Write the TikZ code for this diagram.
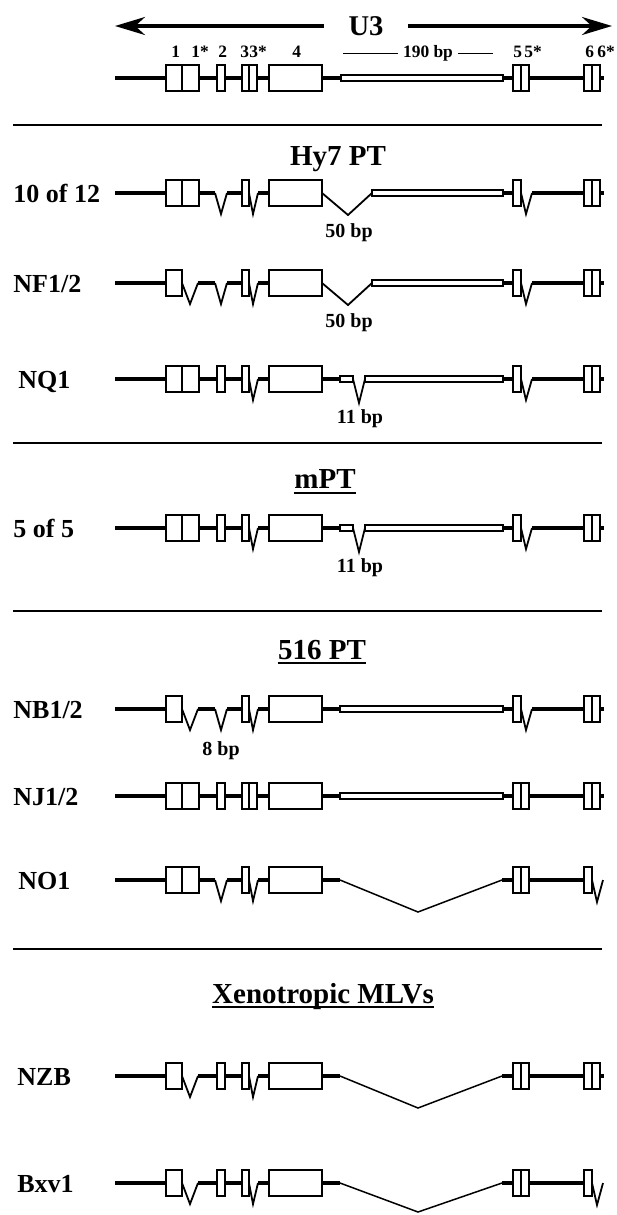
\documentclass[tikz,border=0pt]{standalone}
\usepackage{fontspec}
\setmainfont{Liberation Serif}
\usetikzlibrary{arrows.meta}

\begin{document}
\begin{tikzpicture}[
    x=0.5pt, y=-0.5pt,
    bb/.style={line width=1.7pt},
    exon/.style={draw, fill=white, line width=0.9pt},
    cut/.style={line width=0.9pt},
    skip/.style={line width=0.75pt},
    utr/.style={draw, fill=white, line width=0.7pt},
    rule/.style={line width=0.9pt},
    lbl/.style={font=\fontsize{13}{15}\selectfont\bfseries, inner sep=0pt, anchor=base west},
    ttl/.style={font=\fontsize{14.5}{17}\selectfont\bfseries, inner sep=0pt, anchor=base},
    bp/.style={font=\fontsize{10}{12}\selectfont\bfseries, inner sep=0pt, anchor=base},
    num/.style={font=\fontsize{8.7}{10}\selectfont\bfseries, inner sep=0pt, anchor=base west}
  ]
    \fill[white] (0,0) rectangle (616,1215);
    \useasboundingbox (0,0) rectangle (616,1215);

    % U3 header
    \node[font=\fontsize{14.3}{17}\selectfont\bfseries, inner xsep=12pt, inner ysep=0pt] (u3) at (366,26) {U3};
    \coordinate (u3l) at (115,26);
    \coordinate (u3r) at (612,26);
    \draw[line width=1.6pt, -{Stealth[length=15pt, width=9pt]}] (u3.west) -- (u3l);
    \draw[line width=1.6pt, -{Stealth[length=15pt, width=9pt]}] (u3.east) -- (u3r);

    % exon numbers
    \node[num] (n1) at (171,57) {1};
    \node[num] (n1s) at (191,57) {1*};
    \node[num] (n2) at (218,57) {2};
    \node[num] (n3) at (240,57) {3};
    \node[num] (n3s) at (249,57) {3*};
    \node[num] (n4) at (292,57) {4};
    \node[num] (n5) at (513,57) {5};
    \node[num] (n5s) at (524,57) {5*};
    \node[num] (n6) at (585,57) {6};
    \node[num] (n6s) at (597,57) {6*};
    \node[font=\fontsize{8.7}{10}\selectfont\bfseries, inner xsep=2.5pt, inner ysep=0pt] (bp190) at (428,53) {190 bp};
    \coordinate (s190l) at (343,53);
    \coordinate (s190r) at (493,53);
    \draw[line width=0.5pt] (bp190.west) -- (s190l) (bp190.east) -- (s190r);

    % U3 map
    \begin{scope}[shift={(0,78)}]
      \draw[bb] (115,0) -- (341,0) (503,0) -- (604,0);
      \draw[utr] (341,-3) rectangle (503,3);
      \draw[exon] (166,-13) rectangle (199,13) (182,-13) -- (182,13);
      \draw[exon] (217,-13) rectangle (225,13);
      \draw[exon] (242,-13) rectangle (257,13) (249,-13) -- (249,13);
      \draw[exon] (269,-13) rectangle (322,13);
      \draw[exon] (513,-13) rectangle (529,13) (521,-13) -- (521,13);
      \draw[exon] (584,-13) rectangle (600,13) (592,-13) -- (592,13);
    \end{scope}

    \draw[rule] (13,125) -- (602,125);
    \node[ttl] (hy7) at (338,165) {Hy7 PT};

    % 10 of 12
    \begin{scope}[shift={(0,193)}]
      \node[lbl] (r10of12) at (13,9) {10 of 12};
      \draw[bb] (115,0) -- (215,0) (227,0) -- (249,0) (258,0) -- (322,0)
                (503,0) -- (521,0) (532,0) -- (604,0);
      \draw[cut] (215,0) -- (221,21) -- (227,0) (249,0) -- (253,21) -- (258,0)
                 (322,0) -- (348,22) -- (372,0) (521,0) -- (526,21) -- (532,0);
      \draw[utr] (372,-3) rectangle (503,3);
      \draw[exon] (166,-13) rectangle (199,13) (182,-13) -- (182,13);
      \draw[exon] (242,-13) rectangle (249,13) (269,-13) rectangle (322,13)
                  (513,-13) rectangle (521,13);
      \draw[exon] (584,-13) rectangle (600,13) (592,-13) -- (592,13);
      \node[bp] (bp50a) at (349,44) {50 bp};
    \end{scope}

    % NF1/2
    \begin{scope}[shift={(0,283)}]
      \node[lbl] (rnf) at (13,9) {NF1/2};
      \draw[bb] (115,0) -- (182,0) (198,0) -- (215,0) (227,0) -- (249,0) (258,0) -- (322,0)
                (503,0) -- (521,0) (532,0) -- (604,0);
      \draw[cut] (182,0) -- (190,21) -- (198,0) (215,0) -- (221,21) -- (227,0)
                 (249,0) -- (253,21) -- (258,0) (322,0) -- (348,22) -- (372,0)
                 (521,0) -- (526,21) -- (532,0);
      \draw[utr] (372,-3) rectangle (503,3);
      \draw[exon] (166,-13) rectangle (182,13) (242,-13) rectangle (249,13)
                  (269,-13) rectangle (322,13) (513,-13) rectangle (521,13);
      \draw[exon] (584,-13) rectangle (600,13) (592,-13) -- (592,13);
      \node[bp] (bp50b) at (349,44) {50 bp};
    \end{scope}

    % NQ1
    \begin{scope}[shift={(0,379)}]
      \node[lbl] (rnq) at (18,9) {NQ1};
      \draw[bb] (115,0) -- (249,0) (258,0) -- (340,0) (503,0) -- (521,0) (532,0) -- (604,0);
      \draw[cut] (249,0) -- (253,21) -- (258,0) (353,0) -- (359,24) -- (365,0)
                 (521,0) -- (526,21) -- (532,0);
      \draw[utr] (340,-3) rectangle (353,3) (365,-3) rectangle (503,3);
      \draw[exon] (166,-13) rectangle (199,13) (182,-13) -- (182,13);
      \draw[exon] (217,-13) rectangle (225,13) (242,-13) rectangle (249,13)
                  (269,-13) rectangle (322,13) (513,-13) rectangle (521,13);
      \draw[exon] (584,-13) rectangle (600,13) (592,-13) -- (592,13);
      \node[bp] (bp11a) at (360,44) {11 bp};
    \end{scope}

    \draw[rule] (13,443) -- (602,443);
    \node[ttl] (mpt) at (325,488) {mPT};
    \draw[rule] ([yshift=-2.5pt]mpt.base west) -- ([yshift=-2.5pt]mpt.base east);

    % 5 of 5
    \begin{scope}[shift={(0,528)}]
      \node[lbl] (r5of5) at (13,9) {5 of 5};
      \draw[bb] (115,0) -- (249,0) (258,0) -- (340,0) (503,0) -- (521,0) (532,0) -- (604,0);
      \draw[cut] (249,0) -- (253,21) -- (258,0) (353,0) -- (359,24) -- (365,0)
                 (521,0) -- (526,21) -- (532,0);
      \draw[utr] (340,-3) rectangle (353,3) (365,-3) rectangle (503,3);
      \draw[exon] (166,-13) rectangle (199,13) (182,-13) -- (182,13);
      \draw[exon] (217,-13) rectangle (225,13) (242,-13) rectangle (249,13)
                  (269,-13) rectangle (322,13) (513,-13) rectangle (521,13);
      \draw[exon] (584,-13) rectangle (600,13) (592,-13) -- (592,13);
      \node[bp] (bp11b) at (360,44) {11 bp};
    \end{scope}

    \draw[rule] (13,611) -- (602,611);
    \node[ttl] (pt516) at (322,659) {516 PT};
    \draw[rule] ([yshift=-2pt]pt516.base west) -- ([yshift=-2pt]pt516.base east);

    % NB1/2
    \begin{scope}[shift={(0,709)}]
      \node[lbl] (rnb) at (13,9) {NB1/2};
      \draw[bb] (115,0) -- (182,0) (198,0) -- (215,0) (227,0) -- (249,0) (258,0) -- (340,0)
                (503,0) -- (521,0) (532,0) -- (604,0);
      \draw[cut] (182,0) -- (190,21) -- (198,0) (215,0) -- (221,21) -- (227,0)
                 (249,0) -- (253,21) -- (258,0) (521,0) -- (526,21) -- (532,0);
      \draw[utr] (340,-3) rectangle (503,3);
      \draw[exon] (166,-13) rectangle (182,13) (242,-13) rectangle (249,13)
                  (269,-13) rectangle (322,13) (513,-13) rectangle (521,13);
      \draw[exon] (584,-13) rectangle (600,13) (592,-13) -- (592,13);
      \node[bp] (bp8) at (221,46) {8 bp};
    \end{scope}

    % NJ1/2
    \begin{scope}[shift={(0,796)}]
      \node[lbl] (rnj) at (13,9) {NJ1/2};
      \draw[bb] (115,0) -- (340,0) (503,0) -- (604,0);
      \draw[utr] (340,-3) rectangle (503,3);
      \draw[exon] (166,-13) rectangle (199,13) (182,-13) -- (182,13);
      \draw[exon] (217,-13) rectangle (225,13);
      \draw[exon] (242,-13) rectangle (257,13) (249,-13) -- (249,13);
      \draw[exon] (269,-13) rectangle (322,13);
      \draw[exon] (513,-13) rectangle (529,13) (521,-13) -- (521,13);
      \draw[exon] (584,-13) rectangle (600,13) (592,-13) -- (592,13);
    \end{scope}

    % NO1
    \begin{scope}[shift={(0,880)}]
      \node[lbl] (rno) at (18,9) {NO1};
      \draw[bb] (115,0) -- (215,0) (227,0) -- (249,0) (258,0) -- (340,0) (502,0) -- (592,0);
      \draw[cut] (215,0) -- (221,21) -- (227,0) (249,0) -- (253,21) -- (258,0)
                 (592,0) -- (597,22) -- (603,0);
      \draw[skip] (340,0) -- (418,32) -- (502,0);
      \draw[exon] (166,-13) rectangle (199,13) (182,-13) -- (182,13);
      \draw[exon] (242,-13) rectangle (249,13) (269,-13) rectangle (322,13)
                  (584,-13) rectangle (592,13);
      \draw[exon] (513,-13) rectangle (529,13) (521,-13) -- (521,13);
    \end{scope}

    \draw[rule] (13,949) -- (602,949);
    \node[ttl] (xmlv) at (323,1003) {Xenotropic MLVs};
    \draw[rule] ([yshift=-2pt]xmlv.base west) -- ([yshift=-2pt]xmlv.base east);

    % NZB
    \begin{scope}[shift={(0,1076)}]
      \node[lbl] (rnzb) at (17,9) {NZB};
      \draw[bb] (115,0) -- (182,0) (198,0) -- (249,0) (258,0) -- (340,0) (502,0) -- (604,0);
      \draw[cut] (182,0) -- (190,21) -- (198,0) (249,0) -- (253,21) -- (258,0);
      \draw[skip] (340,0) -- (418,32) -- (502,0);
      \draw[exon] (166,-13) rectangle (182,13) (217,-13) rectangle (225,13)
                  (242,-13) rectangle (249,13) (269,-13) rectangle (322,13);
      \draw[exon] (513,-13) rectangle (529,13) (521,-13) -- (521,13);
      \draw[exon] (584,-13) rectangle (600,13) (592,-13) -- (592,13);
    \end{scope}

    % Bxv1
    \begin{scope}[shift={(0,1183)}]
      \node[lbl] (rbxv) at (17,9) {Bxv1};
      \draw[bb] (115,0) -- (182,0) (198,0) -- (249,0) (258,0) -- (340,0) (502,0) -- (592,0);
      \draw[cut] (182,0) -- (190,21) -- (198,0) (249,0) -- (253,21) -- (258,0)
                 (592,0) -- (597,22) -- (603,0);
      \draw[skip] (340,0) -- (418,29) -- (502,0);
      \draw[exon] (166,-13) rectangle (182,13) (217,-13) rectangle (225,13)
                  (242,-13) rectangle (249,13) (269,-13) rectangle (322,13)
                  (584,-13) rectangle (592,13);
      \draw[exon] (513,-13) rectangle (529,13) (521,-13) -- (521,13);
    \end{scope}
  \end{tikzpicture}
\end{document}
